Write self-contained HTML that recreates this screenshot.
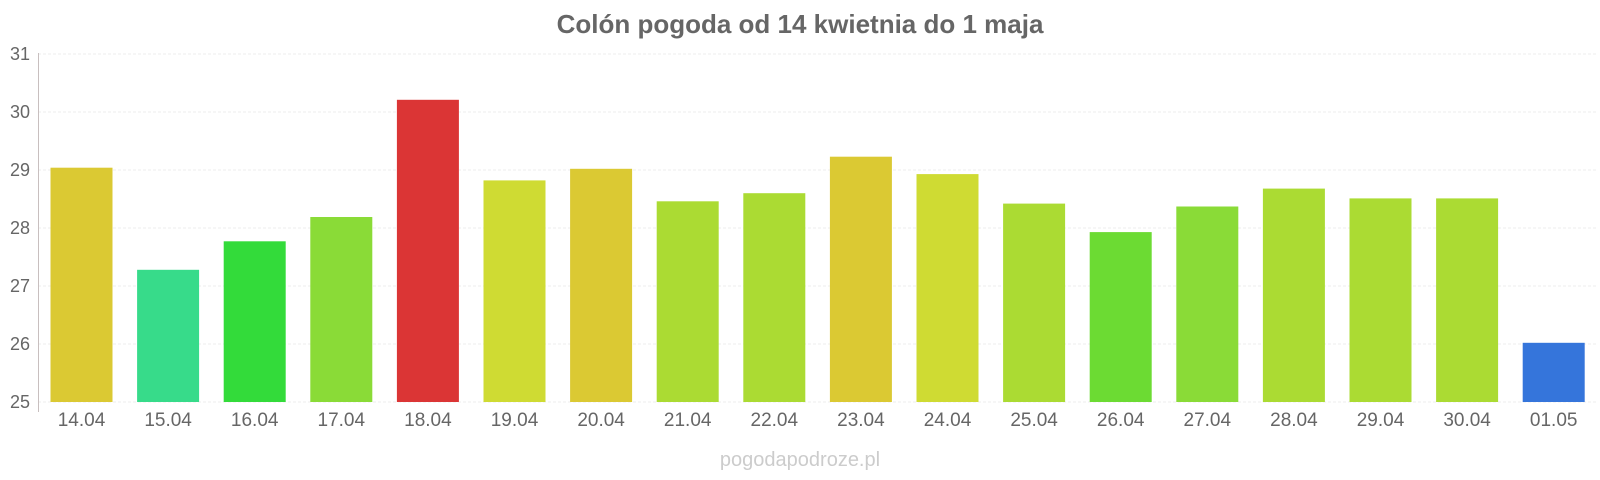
<!DOCTYPE html><html><head><meta charset="utf-8"><style>body{margin:0;background:#fff}svg{display:block}text{font-family:"Liberation Sans",sans-serif}</style></head><body>
<svg width="1600" height="480" xmlns="http://www.w3.org/2000/svg">
<text x="800" y="33" text-anchor="middle" font-size="26" font-weight="bold" fill="#666">Colón pogoda od 14 kwietnia do 1 maja</text>
<g stroke="#eee" stroke-width="1" stroke-dasharray="3,2">
<line x1="38" x2="1597" y1="54" y2="54"/><line x1="38" x2="1597" y1="112" y2="112"/><line x1="38" x2="1597" y1="170" y2="170"/><line x1="38" x2="1597" y1="228" y2="228"/><line x1="38" x2="1597" y1="286" y2="286"/><line x1="38" x2="1597" y1="344" y2="344"/><line x1="38" x2="1597" y1="402" y2="402"/>
</g>
<line x1="38.5" x2="38.5" y1="53" y2="412" stroke="#c8bfbf"/>
<g font-size="18" fill="#666" text-anchor="end">
<text x="30" y="60">31</text><text x="30" y="118">30</text><text x="30" y="176">29</text><text x="30" y="234">28</text><text x="30" y="292">27</text><text x="30" y="350">26</text><text x="30" y="408">25</text>
</g>
<g>
<rect x="50.5" y="167.7" width="62" height="234.3" fill="#dbc933"/>
<rect x="137.1" y="269.8" width="62" height="132.2" fill="#37db8a"/>
<rect x="223.7" y="241.3" width="62" height="160.7" fill="#33db3a"/>
<rect x="310.3" y="217" width="62" height="185" fill="#8adb37"/>
<rect x="396.9" y="99.8" width="62" height="302.2" fill="#db3535"/>
<rect x="483.5" y="180.4" width="62" height="221.6" fill="#cfdb33"/>
<rect x="570.1" y="168.8" width="62" height="233.2" fill="#dbc933"/>
<rect x="656.7" y="201.3" width="62" height="200.7" fill="#abdb33"/>
<rect x="743.3" y="193.2" width="62" height="208.8" fill="#abdb33"/>
<rect x="829.9" y="156.7" width="62" height="245.3" fill="#dbc933"/>
<rect x="916.5" y="174.1" width="62" height="227.9" fill="#cfdb33"/>
<rect x="1003.1" y="203.6" width="62" height="198.4" fill="#abdb33"/>
<rect x="1089.7" y="232.1" width="62" height="169.9" fill="#6cdb33"/>
<rect x="1176.3" y="206.5" width="62" height="195.5" fill="#8adb37"/>
<rect x="1262.9" y="188.6" width="62" height="213.4" fill="#abdb33"/>
<rect x="1349.5" y="198.4" width="62" height="203.6" fill="#abdb33"/>
<rect x="1436.1" y="198.4" width="62" height="203.6" fill="#abdb33"/>
<rect x="1522.7" y="342.8" width="62" height="59.2" fill="#3575db"/>
</g>
<g font-size="19" fill="#666" text-anchor="middle">
<text x="81.5" y="426">14.04</text><text x="168.1" y="426">15.04</text><text x="254.7" y="426">16.04</text><text x="341.3" y="426">17.04</text><text x="427.9" y="426">18.04</text><text x="514.5" y="426">19.04</text><text x="601.1" y="426">20.04</text><text x="687.7" y="426">21.04</text><text x="774.3" y="426">22.04</text><text x="860.9" y="426">23.04</text><text x="947.5" y="426">24.04</text><text x="1034.1" y="426">25.04</text><text x="1120.7" y="426">26.04</text><text x="1207.3" y="426">27.04</text><text x="1293.9" y="426">28.04</text><text x="1380.5" y="426">29.04</text><text x="1467.1" y="426">30.04</text><text x="1553.7" y="426">01.05</text>
</g>
<text x="800" y="466" text-anchor="middle" font-size="20" fill="#ccc">pogodapodroze.pl</text>
</svg></body></html>
